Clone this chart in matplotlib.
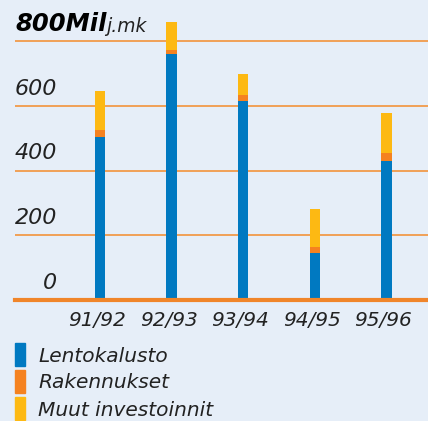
import matplotlib.pyplot as plt
from matplotlib.patches import Rectangle

# data (Milj. mk)
years = ['91/92', '92/93', '93/94', '94/95', '95/96']
lentokalusto = [503, 759, 614, 145, 429]
rakennukset = [22, 13, 19, 19, 25]
muut = [120, 86, 65, 117, 123]
yticks = [0, 200, 400, 600]
series_names = ['Lentokalusto', 'Rakennukset', 'Muut investoinnit']
colors = ['#0079c1', '#f58220', '#fdb913']

W, H = 428, 421
bg = '#e6eef8'
fig = plt.figure(figsize=(W / 100, H / 100), dpi=100, facecolor=bg)
# axes from x=15px to right edge, y zero at 300px
ax = fig.add_axes([15 / W, (H - 300) / H, 413 / W, 300 / H])
ax.set_facecolor(bg)
for s in ax.spines.values():
    s.set_visible(False)
ax.set_xticks([])
ax.set_yticks([])

px = 259 / 800.0  # pixels per unit
ax.set_ylim(0, 300 / px)
step = 71.6
ax.set_xlim((15 - 100) / step, (428 - 100) / step)

# gridlines
for v in [200, 400, 600, 800]:
    ax.axhline(v, color='#f29a4a', lw=1.3, zorder=1)
ax.axhline(0, color='#f0852a', lw=3, zorder=3, clip_on=False)

x = list(range(len(years)))
bw = 10.5 / step
bottom2 = [a + b for a, b in zip(lentokalusto, rakennukset)]
ax.bar(x, lentokalusto, bw, color=colors[0], zorder=2)
ax.bar(x, rakennukset, bw, bottom=lentokalusto, color=colors[1], zorder=2)
ax.bar(x, muut, bw, bottom=bottom2, color=colors[2], zorder=2)

font = 'DejaVu Sans'
tc = '#222222'
# y labels
xl = (57 - 100) / step
for v in yticks:
    ax.text(xl, v + 53, str(v), ha='right', va='center', fontsize=16,
            style='italic', family=font, color=tc)
t1 = ax.text((15 - 100) / step, 800 + 53, '800Mil', ha='left', va='center',
             fontsize=17.5, style='italic', weight='heavy', family=font,
             color='black')
ax.annotate('j.mk', xy=(1, 0), xycoords=t1, va='bottom', ha='left',
            fontsize=13.5, style='italic', family=font, color=tc)

# x labels
for i, y in enumerate(years):
    ax.text(i - 3 / step, -62, y, ha='center', va='center', fontsize=14.5,
            style='italic', family=font, color=tc, clip_on=False)

# legend
tops = [343, 370, 397]
for name, c, t in zip(series_names, colors, tops):
    fig.patches.append(Rectangle((15 / W, 1 - (t + 23) / H), 10 / W, 23 / H,
                                 transform=fig.transFigure, color=c))
    fig.text(38 / W, 1 - (t + 13) / H, name, ha='left', va='center',
             fontsize=14.5, style='italic', family=font, color=tc)

fig.savefig('out.png', dpi=100, facecolor=bg)
